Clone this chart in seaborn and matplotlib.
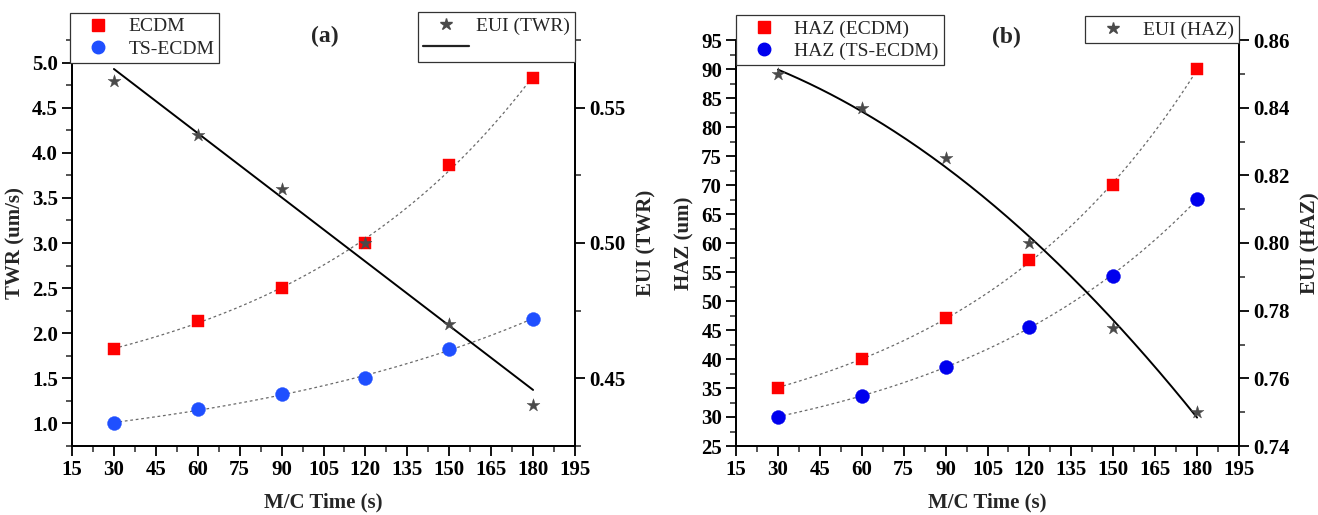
import numpy as np
import pandas as pd
import matplotlib
matplotlib.use("Agg")
import matplotlib.pyplot as plt
from matplotlib.ticker import MultipleLocator, FormatStrFormatter
from matplotlib.lines import Line2D
import seaborn as sns

# ---------------- data ----------------
time_s = [30, 60, 90, 120, 150, 180]
twr_ecdm = [1.83, 2.13, 2.50, 3.00, 3.86, 4.83]
twr_ts = [1.00, 1.16, 1.33, 1.50, 1.83, 2.16]
eui_twr = [0.56, 0.54, 0.52, 0.50, 0.47, 0.44]
haz_ecdm = [35.0, 40.0, 47.0, 57.0, 70.0, 90.0]
haz_ts = [30.0, 33.6, 38.7, 45.6, 54.3, 67.6]
eui_haz = [0.85, 0.84, 0.825, 0.80, 0.775, 0.75]
x_ticks = [15, 30, 45, 60, 75, 90, 105, 120, 135, 150, 165, 180, 195]

sns.set_style("ticks")
plt.rcParams["font.family"] = ["Liberation Serif", "DejaVu Serif"]

W, H = 1318, 515
fig = plt.figure(figsize=(W / 100, H / 100), dpi=100)


def box(l, r, b, t):
    return [l / W, 1 - b / H, (r - l) / W, (b - t) / H]


RED = "#ff0000"
STAR = "#4a4a4a"
FIT_KW = dict(color="#6a6a6a", lw=0.9, linestyle=(0, (2.2, 2.2)))
TICK_FS = 15
LAB_FS = 15


def exp_grow_fit(x, y, n=200):
    """y = y0 + A*exp(x/t), t found by grid search, y0/A by least squares."""
    x = np.asarray(x, float)
    y = np.asarray(y, float)
    best = None
    for t in np.linspace(20, 2000, 4000):
        M = np.column_stack([np.ones_like(x), np.exp(x / t)])
        c, *_ = np.linalg.lstsq(M, y, rcond=None)
        r = np.sum((M @ c - y) ** 2)
        if best is None or r < best[0]:
            best = (r, t, c)
    _, t, c = best
    xs = np.linspace(x.min(), x.max(), n)
    return xs, c[0] + c[1] * np.exp(xs / t)


def poly_fit(x, y, deg, n=200):
    x = np.asarray(x, float)
    c = np.polyfit(x, y, deg)
    xs = np.linspace(x.min(), x.max(), n)
    return xs, np.polyval(c, xs)


def draw_panel(rect, left1, left2, eui, blue, lab1, lab2, eui_lab, ylab, eui_ylab,
               ylim, yl_major, yl_minor, yfmt, rlim, r_major, r_minor, eui_deg,
               letter, letter_xy, legL_xy, legR_xy, show_line_in_legend):
    ax = fig.add_axes(rect)
    df = pd.DataFrame({"t": time_s, "a": left1, "b": left2, "e": eui})
    xs, ys = exp_grow_fit(time_s, left1)
    sns.lineplot(x=xs, y=ys, ax=ax, **FIT_KW, zorder=2)
    xs, ys = exp_grow_fit(time_s, left2)
    sns.lineplot(x=xs, y=ys, ax=ax, **FIT_KW, zorder=2)
    sns.scatterplot(data=df, x="t", y="a", ax=ax, marker="s", s=85, color=RED,
                    edgecolor=RED, linewidth=0.3, zorder=3)
    sns.scatterplot(data=df, x="t", y="b", ax=ax, marker="o", s=100, color=blue,
                    edgecolor=blue, linewidth=0.3, zorder=3)
    ax.set_ylim(*ylim)
    ax.yaxis.set_major_locator(MultipleLocator(yl_major))
    ax.yaxis.set_minor_locator(MultipleLocator(yl_minor))
    ax.yaxis.set_major_formatter(FormatStrFormatter(yfmt))
    ax.set_ylabel(ylab, fontsize=LAB_FS, fontweight="bold", labelpad=5)

    tw = ax.twinx()
    xs, ys = poly_fit(time_s, eui, eui_deg)
    sns.lineplot(x=xs, y=ys, ax=tw, color="black", lw=1.4, zorder=2)
    sns.scatterplot(data=df, x="t", y="e", ax=tw, marker="*", s=95, color=STAR,
                    edgecolor=STAR, linewidth=0.3, zorder=4)
    tw.set_ylim(*rlim)
    tw.yaxis.set_major_locator(MultipleLocator(r_major))
    tw.yaxis.set_minor_locator(MultipleLocator(r_minor))
    tw.yaxis.set_major_formatter(FormatStrFormatter("%.2f"))
    tw.set_ylabel(eui_ylab, fontsize=LAB_FS, fontweight="bold", labelpad=8)

    ax.spines["top"].set_visible(False)
    tw.spines["top"].set_visible(False)
    for a in (ax, tw):
        for sp in a.spines.values():
            sp.set_linewidth(1.3)
            sp.set_color("black")
        a.tick_params(which="major", direction="out", length=7, width=1.3,
                      labelsize=TICK_FS, pad=3, colors="black")
        a.tick_params(which="minor", direction="out", length=4, width=1.1)
    ax.set_xticks(x_ticks)
    ax.xaxis.set_minor_locator(MultipleLocator(7.5))
    ax.set_xlim(15, 195)
    ax.set_xlabel("M/C Time (s)", fontsize=LAB_FS, fontweight="bold", labelpad=9)
    for a in (ax, tw):
        for lab in a.get_xticklabels() + a.get_yticklabels():
            lab.set_fontweight("bold")

    leg_kw = dict(frameon=True, fancybox=False, framealpha=1, edgecolor="#333333",
                  prop={"family": "Liberation Serif", "size": 14},
                  handlelength=2.4, handletextpad=0.35, borderpad=0.25,
                  labelspacing=0.25, borderaxespad=0)
    hL = [Line2D([], [], ls="none", marker="s", ms=8, color=RED),
          Line2D([], [], ls="none", marker="o", ms=9, color=blue)]
    legL = tw.legend(handles=hL, labels=[lab1, lab2], loc="upper left",
                     bbox_to_anchor=(legL_xy[0] / W, 1 - legL_xy[1] / H),
                     bbox_transform=fig.transFigure, **leg_kw)
    legL.get_frame().set_linewidth(0.9)
    tw.add_artist(legL)
    hR = [Line2D([], [], ls="none", marker="*", ms=9, color=STAR)]
    labR = [eui_lab]
    if show_line_in_legend:
        hR.append(Line2D([], [], color="#222222", lw=1.6))
        labR.append(" ")
    legR = tw.legend(handles=hR, labels=labR, loc="upper right",
                     bbox_to_anchor=(legR_xy[0] / W, 1 - legR_xy[1] / H),
                     bbox_transform=fig.transFigure, **leg_kw)
    legR.get_frame().set_linewidth(0.9)
    fig.text(letter_xy[0] / W, 1 - letter_xy[1] / H, letter, fontsize=17,
             fontweight="bold", ha="center", va="center")
    return ax, tw


draw_panel(box(72, 575, 446, 40), twr_ecdm, twr_ts, eui_twr, "#1f4fff",
           "ECDM", "TS-ECDM", "EUI (TWR)", "TWR (um/s)", "EUI (TWR)",
           (0.75, 5.25), 0.5, 0.25, "%.1f", (0.425, 0.575), 0.05, 0.025, 1,
           "(a)", (325, 36), (70, 13), (575, 12), True)

draw_panel(box(736, 1239, 446, 40), haz_ecdm, haz_ts, eui_haz, "#0000ee",
           "HAZ (ECDM)", "HAZ (TS-ECDM)", "EUI (HAZ)", "HAZ (um)", "EUI (HAZ)",
           (25, 95), 5, 2.5, "%d", (0.74, 0.86), 0.02, 0.01, 2,
           "(b)", (1006, 37), (736, 15), (1239, 16), False)

fig.savefig("out.png", dpi=100)
